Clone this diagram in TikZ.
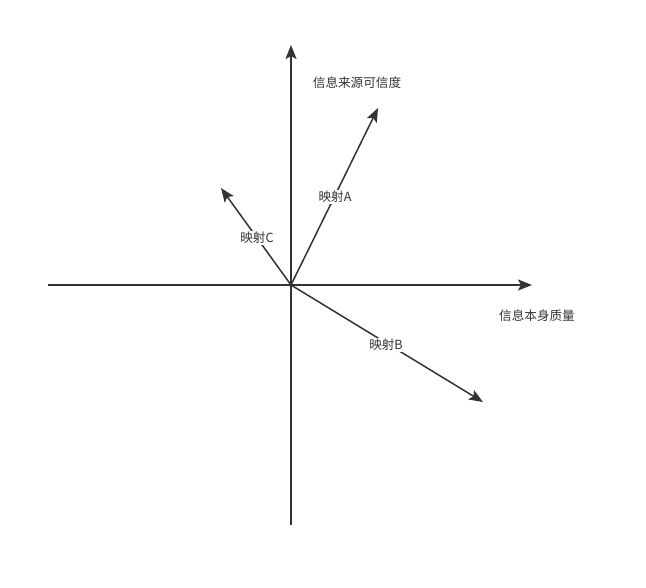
\documentclass[tikz,border=0pt]{standalone}
\usepackage{fontspec}
\newfontfamily\cjk{Noto Sans CJK SC}
\usetikzlibrary{arrows.meta}
\definecolor{ink}{HTML}{333333}
\tikzset{
  axis/.style={draw=ink, line width=1.5pt, -{Stealth[length=14pt,width=11pt,inset=3pt]}},
  lbl/.style={font=\cjk\fontsize{12.6}{14}\selectfont, text=ink, inner sep=1pt},
  onlbl/.style={lbl, fill=white}
}
\begin{document}
\begin{tikzpicture}[x=1pt,y=-1pt]
\useasboundingbox (0,0) rectangle (646,588);
\coordinate (O) at (291,285);
\coordinate (L) at (48,285);
\coordinate (R) at (532,285);
\coordinate (D) at (291,525);
\coordinate (U) at (291,45);
\coordinate (A) at (378,108);
\coordinate (B) at (483,402);
\coordinate (C) at (221,188);
\draw[axis] (L) -- (R);
\draw[axis] (D) -- (U);
\draw[axis] (O) -- (A);
\draw[axis] (O) -- (B);
\draw[axis] (O) -- (C);
\node[lbl] (ty) at (357,83) {信息来源可信度};
\node[lbl] (tx) at (537,316) {信息本身质量};
\node[onlbl] (la) at (335,197) {映射A};
\node[onlbl] (lb) at (386,345) {映射B};
\node[onlbl] (lc) at (257,238) {映射C};
\end{tikzpicture}
\end{document}
